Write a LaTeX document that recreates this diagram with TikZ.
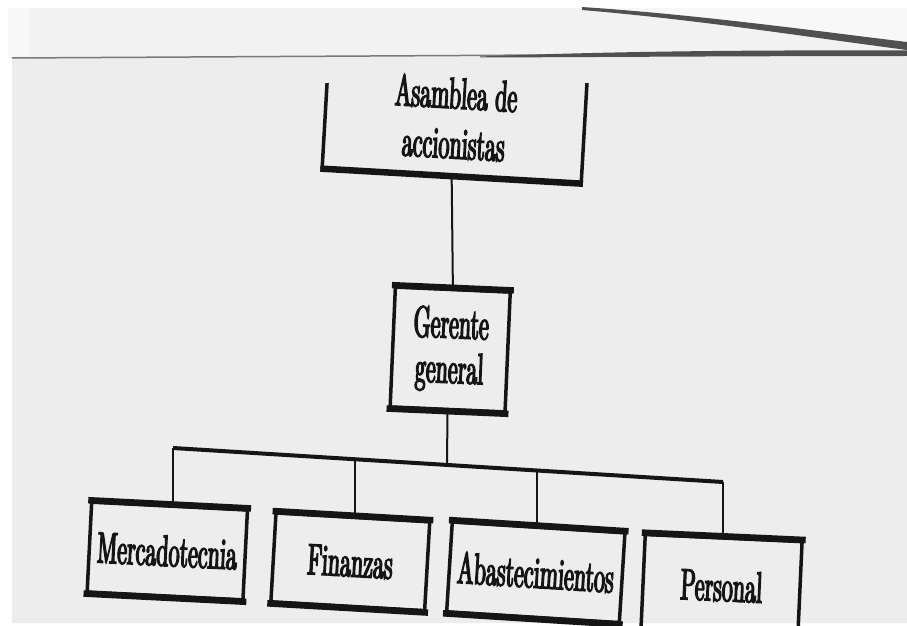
\documentclass[tikz,border=0pt]{standalone}
\usepackage{fontspec}
\newfontfamily\boxfont{lmroman10-regular.otf}[FakeStretch=0.5,FakeBold=3]
\definecolor{ink}{HTML}{151515}
\definecolor{paper}{HTML}{EDEDED}
\definecolor{flap}{HTML}{F2F2F2}
\definecolor{flaplight}{HTML}{F8F8F8}
\definecolor{fold}{HTML}{505050}
\definecolor{edgegray}{HTML}{7A7A7A}
\begin{document}
\begin{tikzpicture}[x=1pt,y=-1pt,
  box/.style={draw=ink, line width=3.5pt, inner sep=0pt, align=center, text=ink,
              font=\boxfont\fontsize{44}{47}\selectfont},
  hedge/.style={draw=ink, line width=6.5pt, line cap=butt,
                shorten <=-1.75pt, shorten >=-1.75pt},
  conn/.style={draw=ink, line width=2pt},
  bus/.style={draw=ink, line width=4pt, line cap=square}]
\useasboundingbox (0,0) rectangle (907,626);

% sheet, folded flap above it and the fold shadow
\fill[white] (0,0) rectangle (907,626);
\fill[flaplight] (8,8) rectangle (30,58);
\fill[flap] (30,8) rectangle (907,58);
\fill[flaplight] (582,8) .. controls (700,16) and (800,30) .. (907,44) -- (907,8) -- cycle;
\fill[fold] (582,7) .. controls (700,15) and (800,29) .. (907,42)
            -- (907,50) .. controls (800,36) and (700,20) .. (582,10) -- cycle;
\fill[paper] (12,58) -- (907,53) -- (907,623) -- (12,623) -- cycle;
\draw[edgegray, line width=1.5pt] (12,58) -- (907,53);
\fill[fold] (480,56.5) .. controls (620,51) and (760,50) .. (907,50.5)
            -- (907,56) .. controls (760,56) and (620,57) .. (480,57.5) -- cycle;

% boxes
\node[box, draw=none, minimum width=256pt, minimum height=113pt, rotate=-3.3,
      font=\boxfont\fontsize{44}{50}\selectfont] (top) at (455,118) {Asamblea de\\accionistas};
\node[box, minimum width=115pt, minimum height=120pt, rotate=-2.5,
      font=\boxfont\fontsize{44}{45}\selectfont] (ger) at (450.2,349.5) {Gerente\\general};
\node[box, minimum width=156pt, minimum height=90pt, rotate=-2.9] (mer) at (167.3,551) {Mercadotecnia};
\node[box, minimum width=154pt, minimum height=89pt, rotate=-3.3] (fin) at (350.3,561.8) {Finanzas};
\node[box, minimum width=173pt, minimum height=90pt, rotate=-3.6] (aba) at (535.8,572.3) {Abastecimientos};
\node[box, minimum width=157pt, minimum height=96pt, rotate=-2.6] (per) at (721.5,586) {Personal};

% open-topped outline of the top box
\begin{scope}
  \clip (0,83) rectangle (907,626);
  \draw[ink, line width=3.5pt] (top.north west) -- (top.south west) -- (top.south east) -- (top.north east);
  \draw[hedge] (top.south west) -- (top.south east);
\end{scope}

% heavier horizontal edges
\foreach \n in {ger,mer,fin,aba,per}{
  \draw[hedge] (\n.north west) -- (\n.north east);
  \draw[hedge] (\n.south west) -- (\n.south east);
}

% connectors
\coordinate (bL) at (173,448);
\coordinate (bF) at (355,459.3);
\coordinate (bG) at (447,463.5);
\coordinate (bA) at (537,470.5);
\coordinate (bR) at (723,482);
\draw[conn] (top.south) -- (ger.north);
\draw[conn] (ger.south) -- (bG);
\draw[bus] (bL) -- (bR);
\draw[conn] (bL) -- (bL |- mer.north);
\draw[conn] (bF) -- (bF |- fin.north);
\draw[conn] (bA) -- (bA |- aba.north);
\draw[conn] (bR) -- (bR |- per.north);
\end{tikzpicture}
\end{document}
